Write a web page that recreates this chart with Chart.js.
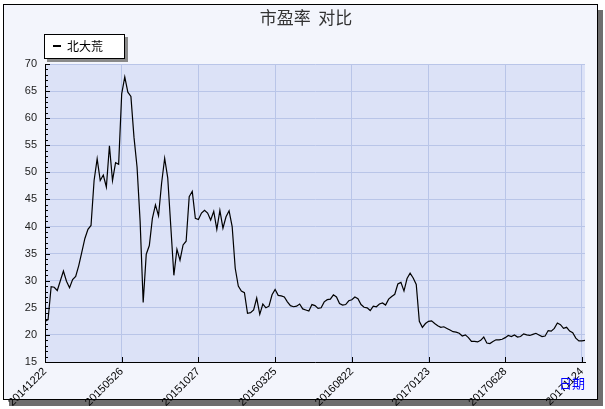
<!DOCTYPE html>
<html>
<head>
<meta charset="utf-8">
<script src="https://cdn.jsdelivr.net/npm/chart.js@4.4.0/dist/chart.umd.min.js"></script>
<style>
  html, body { margin: 0; padding: 0; background: #fff; }
  #wrap { width: 605px; height: 409px; }
</style>
</head>
<body>
<div id="wrap"><canvas id="pe-chart" width="605" height="409"></canvas></div>
<script>
const chartTitle = "市盈率  对比";
const seriesName = "北大荒";
const xAxisName = "日期";
const tickLabels = ["20141222", "20150526", "20151027", "20160325", "20160822", "20170123", "20170628", "20171124"];
const tickEvery = 25;
const yTicks = [15, 20, 25, 30, 35, 40, 45, 50, 55, 60, 65, 70];

// PE values, one per sample
const peValues = [
  22.5, 22.8, 28.9, 28.8, 28.2, 30.0, 31.8, 29.9, 28.7, 30.2,
  30.8, 32.8, 35.3, 37.8, 39.5, 40.2, 48.5, 52.5, 48.5, 49.5,
  47.3, 54.9, 48.5, 51.8, 51.5, 64.5, 67.6, 64.8, 64.0, 56.5,
  51.0, 41.0, 26.0, 34.9, 36.5, 41.5, 44.0, 42.0, 48.0, 52.6,
  49.0, 40.0, 31.0, 35.8, 33.8, 36.6, 37.3, 45.5, 46.5, 41.5,
  41.3, 42.5, 43.0, 42.5, 41.2, 42.8, 39.5, 43.0, 39.7, 41.8,
  42.9, 40.0, 32.3, 29.0, 28.1, 27.8, 24.0, 24.1, 24.6, 26.8,
  23.8, 25.7, 25.0, 25.3, 27.4, 28.4, 27.3, 27.2, 27.0, 26.1,
  25.4, 25.2, 25.3, 25.7, 24.8, 24.6, 24.4, 25.6, 25.4, 24.9,
  25.0, 26.1, 26.5, 26.6, 27.4, 27.0, 25.8, 25.5, 25.6, 26.3,
  26.5, 27.0, 26.7, 25.6, 25.1, 25.0, 24.5, 25.3, 25.2, 25.7,
  25.9, 25.5, 26.6, 27.1, 27.5, 29.4, 29.7, 28.1, 30.4, 31.4,
  30.5, 29.3, 22.5, 21.4, 22.1, 22.5, 22.6, 22.1, 21.7, 21.4,
  21.5, 21.2, 20.9, 20.6, 20.5, 20.3, 19.8, 20.0, 19.5, 18.8,
  18.8, 18.7, 19.0, 19.6, 18.5, 18.4, 18.8, 19.1, 19.1, 19.2,
  19.5, 19.9, 19.7, 20.0, 19.6, 19.7, 20.2, 20.0, 19.9, 20.1,
  20.3, 20.0, 19.7, 19.8, 20.8, 20.7, 21.2, 22.2, 21.9, 21.2,
  21.4, 20.7, 20.4, 19.4, 18.9, 18.9, 19.0
];

const gridColor = "#b9c5e8";
const plotBg = "#dce2f7";
const frameBg = "#f3f5fc";

// frame, shadow, plot background, title, legend, inner tick marks
const decor = {
  id: "decor",
  beforeDraw(chart) {
    const ctx = chart.ctx;
    const a = chart.chartArea;
    ctx.save();
    ctx.fillStyle = "#fff";
    ctx.fillRect(0, 0, chart.width, chart.height);
    ctx.fillStyle = "#6e6e6e";
    ctx.fillRect(9, 10, 594, 396);
    ctx.fillStyle = frameBg;
    ctx.fillRect(3, 4, 595, 396);
    ctx.strokeStyle = "#000";
    ctx.lineWidth = 1;
    ctx.strokeRect(3.5, 4.5, 594, 395);
    ctx.fillStyle = plotBg;
    ctx.fillRect(a.left, a.top, a.right - a.left, a.bottom - a.top);
    ctx.restore();
  },
  afterDraw(chart) {
    const ctx = chart.ctx;
    const a = chart.chartArea;
    const y = chart.scales.y;
    const x = chart.scales.x;
    ctx.save();
    ctx.strokeStyle = "#000";
    ctx.lineWidth = 1;
    ctx.beginPath();
    for (let v = yTicks[0]; v <= yTicks[yTicks.length - 1]; v++) {
      const py = Math.round(y.getPixelForValue(v)) + 0.5;
      const len = v % 5 === 0 ? 5 : 3;
      ctx.moveTo(a.left, py);
      ctx.lineTo(a.left + len, py);
    }
    x.ticks.forEach(t => {
      const px = Math.round(x.getPixelForValue(t.value)) + 0.5;
      ctx.moveTo(px, a.bottom);
      ctx.lineTo(px, a.bottom - 5);
    });
    ctx.stroke();

    // title
    ctx.fillStyle = "#333";
    ctx.font = "17px 'Noto Sans CJK SC'";
    ctx.textAlign = "center";
    ctx.textBaseline = "middle";
    ctx.fillText(chartTitle, 306, 18);

    // legend box
    ctx.fillStyle = "#8a8a8a";
    ctx.fillRect(47, 37, 81, 25);
    ctx.fillStyle = "#fff";
    ctx.fillRect(44, 34, 81, 25);
    ctx.strokeStyle = "#000";
    ctx.strokeRect(44.5, 34.5, 80, 24);
    ctx.fillStyle = "#000";
    ctx.fillRect(53, 45, 8, 2);
    ctx.font = "12px 'Noto Sans CJK SC'";
    ctx.textAlign = "left";
    ctx.fillText(seriesName, 67, 46.5);

    // axis name
    ctx.fillStyle = "#0000ff";
    ctx.font = "13px 'Noto Sans CJK SC'";
    ctx.fillText(xAxisName, 559, 383);
    ctx.restore();
  }
};

new Chart(document.getElementById("pe-chart"), {
  type: "line",
  data: {
    labels: peValues.map((v, i) => i),
    datasets: [{
      label: seriesName,
      data: peValues.map((v, i) => ({ x: i, y: v })),
      borderColor: "#000",
      borderWidth: 1.2,
      pointRadius: 0,
      tension: 0,
      fill: false
    }]
  },
  options: {
    responsive: false,
    animation: false,
    devicePixelRatio: 1,
    layout: { padding: { left: 10, top: 64, right: 20, bottom: 0 } },
    plugins: {
      legend: { display: false },
      title: { display: false },
      tooltip: { enabled: false }
    },
    scales: {
      x: {
        type: "linear",
        min: 0,
        max: peValues.length - 1,
        afterFit: s => { s.height = 47; },
        grid: { color: gridColor, drawTicks: false },
        border: { color: "#000" },
        ticks: {
          stepSize: tickEvery,
          includeBounds: false,
          autoSkip: false,
          minRotation: 45,
          maxRotation: 45,
          padding: 3,
          color: "#000",
          font: { family: "'Liberation Sans'", size: 11 },
          callback: v => tickLabels[v / tickEvery] ?? ""
        }
      },
      y: {
        min: yTicks[0],
        max: yTicks[yTicks.length - 1],
        afterFit: s => { s.width = 35; },
        grid: { color: gridColor, drawTicks: false },
        border: { color: "#000" },
        ticks: {
          stepSize: 5,
          padding: 8,
          color: "#222",
          font: { family: "'Liberation Sans'", size: 11 }
        }
      }
    }
  },
  plugins: [decor]
});
</script>
</body>
</html>
